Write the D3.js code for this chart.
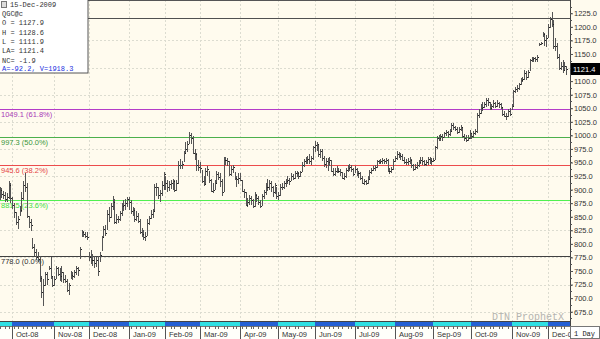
<!DOCTYPE html>
<html>
<head>
<meta charset="utf-8">
<script src="https://cdn.jsdelivr.net/npm/d3@7"></script>
<style>
  body { margin: 0; background: #fff; }
  svg { display: block; font-family: "Liberation Sans", sans-serif; }
</style>
</head>
<body>
<svg width="600" height="339"></svg>
<script>
// daily bars, QGC@c, 22-Sep-2008 .. 15-Dec-2009 (one line per month)
var highs = [
  905,903,897,895,893,916,912,
  887,875,859,852,870,895,915,930,912,851,845,810,800,791,785,778,741,735,749,748,760,776,741,
  740,760,758,755,760,749,742,736,728,750,748,752,760,758,795,826,823,822,822,
  785,788,782,778,775,778,785,815,833,835,862,868,875,888,882,855,852,860,875,880,882,886,
  886,880,868,866,860,856,845,830,825,822,845,852,862,864,910,912,905,900,915,932,
  925,918,915,918,920,918,918,952,956,952,972,987,990,1006,1004,998,975,968,955,
  950,937,925,940,943,935,920,912,918,935,932,930,920,961,961,958,952,943,945,932,925,930,
  930,918,901,895,885,890,888,882,895,892,888,880,892,900,912,919,918,915,906,912,905,
  895,910,912,916,920,925,922,930,928,934,934,932,935,950,956,960,962,965,962,980,
  989,988,985,975,974,962,958,958,960,955,940,940,943,940,938,932,930,940,945,947,945,940,
  943,940,935,932,925,920,918,925,937,940,943,945,955,955,956,958,956,958,956,940,942,956,
  962,971,970,968,965,960,956,958,960,956,948,948,950,955,961,960,955,955,960,960,958,
  958,980,998,1000,1003,1002,1007,1010,1008,1012,1022,1023,1018,1015,1016,1020,1016,1002,1000,1000,1010,
  1003,1008,1012,1042,1048,1058,1062,1062,1069,1068,1062,1058,1065,1062,1065,1062,1060,1052,1045,1042,1048,1050,
  1058,1084,1090,1092,1097,1105,1108,1120,1118,1120,1140,1145,1145,1145,1148,1170,1172,1190,1189,1185,
  1205,1218,1227,1213,1180,1170,1150,1135,1138,1135,1128.6
];
var lows = [
  880,885,883,878,877,882,876,
  865,847,835,828,851,858,880,895,847,830,824,790,778,770,767,730,700,685,723,725,752,736,721,
  722,735,740,732,730,727,728,712,706,735,734,738,742,740,773,812,812,810,808,
  768,763,760,755,758,741,767,786,812,815,825,840,848,862,836,836,838,842,852,860,862,868,
  862,855,852,840,842,838,818,812,808,805,815,835,846,848,860,888,882,877,888,900,
  900,896,898,902,900,896,898,910,938,938,950,965,970,985,985,965,955,935,935,
  930,912,907,908,925,912,896,893,900,910,918,905,888,895,945,943,925,925,930,918,905,910,
  915,895,885,870,868,872,872,866,868,878,872,866,870,882,890,898,900,895,886,892,883,
  880,888,900,902,905,910,908,915,918,920,923,920,924,932,941,947,948,948,945,955,
  970,972,960,958,952,942,940,935,943,932,925,925,930,930,926,920,918,922,932,935,932,925,
  930,925,922,918,910,908,908,910,920,928,934,934,940,947,947,948,947,948,932,929,930,936,
  950,955,958,955,952,947,945,946,948,940,934,936,938,942,948,946,943,943,946,948,945,
  951,955,975,990,990,989,995,998,996,998,1008,1010,1008,1002,1004,1008,995,990,988,990,993,
  993,995,1000,1005,1032,1040,1045,1050,1052,1054,1047,1047,1050,1050,1052,1050,1048,1035,1033,1028,1033,1035,
  1047,1052,1078,1080,1084,1092,1098,1102,1102,1105,1118,1135,1135,1135,1136,1165,1166,1182,1165,1163,
  1180,1198,1200,1160,1155,1140,1120,1121,1115,1118,1111.9
];
var closes = [
  900,892,890,882,887,908,884,
  872,858,840,845,862,885,908,905,852,840,835,795,785,776,772,737,712,725,745,735,756,740,725,
  735,755,745,740,748,735,732,715,724,742,740,748,755,752,790,822,818,815,812,
  775,770,770,765,770,750,780,812,828,820,855,850,870,878,840,845,845,856,870,872,876,882,
  878,860,862,845,852,842,822,818,812,815,838,848,855,860,905,905,890,893,908,928,
  912,905,910,912,915,900,912,945,945,948,968,975,985,1000,995,968,966,945,942,
  940,915,910,935,938,918,898,900,912,928,924,915,895,955,955,952,928,938,942,922,920,922,
  918,898,895,872,878,885,880,870,890,885,878,870,888,895,905,905,912,905,895,908,888,
  890,905,905,912,915,918,915,926,922,930,930,925,932,945,952,955,956,952,958,978,
  982,985,965,972,958,948,952,950,955,935,928,935,935,935,932,922,925,936,940,942,938,928,
  938,930,930,922,912,915,912,920,932,936,940,942,952,950,952,955,952,955,935,935,938,952,
  958,966,963,962,955,950,950,952,955,945,938,942,945,950,955,952,948,950,956,955,952,
  955,978,995,996,998,997,1005,1006,1002,1008,1020,1015,1012,1006,1012,1015,998,995,992,996,1005,
  998,1005,1008,1038,1042,1050,1052,1058,1065,1062,1050,1055,1060,1055,1060,1058,1052,1040,1036,1035,1045,1040,
  1055,1082,1085,1088,1094,1102,1104,1115,1108,1116,1138,1140,1142,1140,1145,1168,1170,1187,1175,1180,
  1200,1215,1205,1165,1165,1145,1125,1128,1120,1128,1121.4
];

// exchange holidays inside the range
var holidays = ["2008-11-27","2008-12-25","2009-01-01","2009-01-19","2009-02-16",
  "2009-04-10","2009-05-25","2009-07-03","2009-09-07","2009-11-26"];

// retracement levels (the 100% one has no visible label, the legend covers it)
var fibValues = [1216.6, 1049.1, 997.3, 945.6, 881.5, 778.0];
var fibLabels = ["", "1049.1 (61.8%)", "997.3 (50.0%)", "945.6 (38.2%)", "881.5 (23.6%)", "778.0 (0.0%)"];
var fibColors = ["#505050", "#b43cc8", "#4cb04c", "#ec4c4c", "#50f050", "#404040"];
var fibText = ["#505050", "#a838b8", "#3a963a", "#e44444", "#40e040", "#303030"];

var priceTicks = d3.range(675, 1225.1, 25);
var gridValues = d3.range(675, 1225, 50);

var legendLines = ["QGC@c", "O = 1127.9", "H = 1128.6", "L = 1111.9", "LA= 1121.4", "NC= -1.9"];
var legendDate = "15-Dec-2009";
var legendStats = "A=-92.2, V=1918.3";
var lastPrice = 1121.4;

var svg = d3.select("svg"),
    plotRight = 570,
    plotBottom = 322;

var fmt = d3.timeFormat("%Y-%m-%d");
var dates = d3.timeDay.range(new Date(2008, 8, 22), new Date(2009, 11, 16))
  .filter(function(d) { return d.getDay() !== 0 && d.getDay() !== 6 && holidays.indexOf(fmt(d)) < 0; });

var bars = highs.map(function(h, i) {
  return {i: i, date: dates[i], high: h, low: lows[i], close: closes[i]};
});

var x = d3.scaleLinear().domain([0, 311]).range([-0.45, 566.2]),
    y = d3.scaleLinear().domain([656, 1249.5]).range([plotBottom, 0]);

// month starts
var months = [];
bars.forEach(function(d, i) {
  if (i === 0 || d.date.getMonth() !== bars[i - 1].date.getMonth()) months.push(d);
});

svg.append("rect")
    .attr("width", 600).attr("height", 339)
    .attr("fill", "#fffbee");

svg.append("clipPath").attr("id", "plot")
  .append("rect").attr("width", plotRight).attr("height", plotBottom);

var g = svg.append("g").attr("clip-path", "url(#plot)");

// grid
g.selectAll(".hgrid")
  .data(gridValues)
  .enter().append("line")
    .attr("x1", 0).attr("x2", plotRight)
    .attr("y1", function(d) { return Math.round(y(d)) + 0.5; })
    .attr("y2", function(d) { return Math.round(y(d)) + 0.5; })
    .attr("stroke", "#dcdcd0")
    .attr("stroke-dasharray", "2,2");

g.selectAll(".vgrid")
  .data(months.slice(1))
  .enter().append("line")
    .attr("x1", function(d) { return Math.round(x(d.i)) + 0.5; })
    .attr("x2", function(d) { return Math.round(x(d.i)) + 0.5; })
    .attr("y1", 0).attr("y2", plotBottom)
    .attr("stroke", "#dcdcd0")
    .attr("stroke-dasharray", "2,2");

// retracement lines
g.selectAll(".fib")
  .data(fibValues)
  .enter().append("line")
    .attr("x1", 0).attr("x2", plotRight)
    .attr("y1", function(d) { return Math.round(y(d)) + 0.5; })
    .attr("y2", function(d) { return Math.round(y(d)) + 0.5; })
    .attr("stroke", function(d, i) { return fibColors[i]; })
    .attr("stroke-width", 1.2);

g.selectAll(".fibLabel")
  .data(fibValues.filter(function(d, i) { return fibLabels[i]; }))
  .enter().append("text")
    .attr("x", 1)
    .attr("y", function(d) { return Math.round(y(d)) + 8; })
    .attr("font-size", "7.5px")
    .attr("fill", function(d) { return fibText[fibValues.indexOf(d)]; })
    .text(function(d) { return fibLabels[fibValues.indexOf(d)]; });

// OHLC bars (high-low with close tick)
var barG = g.append("g")
    .attr("stroke", "#555")
    .attr("shape-rendering", "crispEdges");

barG.selectAll(".hl")
  .data(bars)
  .enter().append("line")
    .attr("x1", function(d) { return Math.round(x(d.i)) + 0.5; })
    .attr("x2", function(d) { return Math.round(x(d.i)) + 0.5; })
    .attr("y1", function(d) { return y(d.high); })
    .attr("y2", function(d) { return Math.max(y(d.low), y(d.high) + 1); });

barG.selectAll(".cl")
  .data(bars)
  .enter().append("line")
    .attr("x1", function(d) { return Math.round(x(d.i)) + 1; })
    .attr("x2", function(d) { return Math.round(x(d.i)) + 2; })
    .attr("y1", function(d) { return Math.round(y(d.close)) + 0.5; })
    .attr("y2", function(d) { return Math.round(y(d.close)) + 0.5; })
    .attr("stroke", "#222");

// watermark
svg.append("text")
    .attr("x", 564).attr("y", 320)
    .attr("text-anchor", "end")
    .attr("font-family", "Liberation Mono, monospace")
    .attr("font-size", "10px")
    .attr("fill", "#b4b4b0")
    .text("DTN ProphetX");

// top border
svg.append("line")
    .attr("x1", 0).attr("x2", plotRight).attr("y1", 0.5).attr("y2", 0.5)
    .attr("stroke", "#555");

// month colour band
svg.append("line")
    .attr("x1", 0).attr("x2", plotRight).attr("y1", plotBottom - 0.5).attr("y2", plotBottom - 0.5)
    .attr("stroke", "#444");

svg.selectAll(".band")
  .data(months)
  .enter().append("rect")
    .attr("x", function(d, k) { return k === 0 ? 0 : Math.round(x(d.i)); })
    .attr("y", plotBottom)
    .attr("width", function(d, k) {
      var x0 = k === 0 ? 0 : Math.round(x(d.i));
      var x1 = k < months.length - 1 ? Math.round(x(months[k + 1].i)) : plotRight;
      return x1 - x0;
    })
    .attr("height", 4)
    .attr("fill", function(d, k) { return k % 2 ? "#2460d4" : "#2ee0e4"; });

// date axis
svg.append("clipPath").attr("id", "dateClip")
  .append("rect").attr("y", 326).attr("width", plotRight).attr("height", 13);

var axisG = svg.append("g").attr("clip-path", "url(#dateClip)");

axisG.append("rect")
    .attr("y", 326).attr("width", plotRight).attr("height", 13)
    .attr("fill", "#fffffa");

axisG.append("line")
    .attr("x1", 0).attr("x2", plotRight).attr("y1", 326.5).attr("y2", 326.5)
    .attr("stroke", "#777");

axisG.selectAll(".dtick")
  .data(bars.filter(function(d) { return d.date.getDay() === 1 || d.date.getDay() === 4; }))
  .enter().append("line")
    .attr("x1", function(d) { return Math.round(x(d.i)) + 0.5; })
    .attr("x2", function(d) { return Math.round(x(d.i)) + 0.5; })
    .attr("y1", 326).attr("y2", 329)
    .attr("stroke", "#666");

axisG.selectAll(".msep")
  .data(months.slice(1))
  .enter().append("line")
    .attr("x1", function(d) { return Math.round(x(d.i)) + 0.5; })
    .attr("x2", function(d) { return Math.round(x(d.i)) + 0.5; })
    .attr("y1", 326).attr("y2", 339)
    .attr("stroke", "#555");

axisG.selectAll(".mlabel")
  .data(months.slice(1))
  .enter().append("text")
    .attr("x", function(d) { return Math.round(x(d.i)) + 4; })
    .attr("y", 337)
    .attr("font-size", "7.5px")
    .attr("fill", "#333")
    .text(function(d) {
      // the last month only shows what fits before the price axis
      var s = d3.timeFormat("%b-%y")(d.date);
      return d.i === months[months.length - 1].i ? s.slice(0, 5) : s;
    });

// price axis on the right
svg.append("line")
    .attr("x1", plotRight + 0.5).attr("x2", plotRight + 0.5)
    .attr("y1", 0).attr("y2", 339)
    .attr("stroke", "#444");

svg.append("g")
    .attr("transform", "translate(" + plotRight + ",0)")
    .selectAll(".minor")
  .data(d3.range(662.5, 1245, 12.5))
  .enter().append("line")
    .attr("x1", 0).attr("x2", 2)
    .attr("y1", function(d) { return Math.round(y(d)) + 0.5; })
    .attr("y2", function(d) { return Math.round(y(d)) + 0.5; })
    .attr("stroke", "#555");

// the last-price marker hides the tick label it sits on
var shownTicks = priceTicks.filter(function(v) { return Math.abs(y(v) - y(lastPrice)) > 7; });

var yAxis = svg.append("g")
    .attr("transform", "translate(" + plotRight + ",0)")
    .call(d3.axisRight(y).tickValues(shownTicks).tickFormat(d3.format(".1f")).tickSize(3).tickPadding(1));

yAxis.select(".domain").remove();
yAxis.selectAll("text")
    .attr("font-size", "7.5px")
    .attr("font-family", "Liberation Sans, sans-serif")
    .attr("fill", "#333");
yAxis.selectAll("line").attr("stroke", "#555");

// last price marker
svg.append("rect")
    .attr("x", plotRight + 1).attr("y", Math.round(y(lastPrice)) - 6)
    .attr("width", 29).attr("height", 12)
    .attr("fill", "#000");

svg.append("text")
    .attr("x", plotRight + 3).attr("y", Math.round(y(lastPrice)) + 3)
    .attr("font-size", "7.5px")
    .attr("fill", "#fff")
    .text(d3.format(".1f")(lastPrice));

// interval box
svg.append("rect")
    .attr("x", plotRight + 0.5).attr("y", 326.5)
    .attr("width", 29).attr("height", 12)
    .attr("fill", "#fff").attr("stroke", "#777");

svg.append("text")
    .attr("x", plotRight + 4).attr("y", 336)
    .attr("font-family", "Liberation Mono, monospace")
    .attr("font-size", "7px")
    .attr("fill", "#222")
    .text("1 Day");

// legend box
var legend = svg.append("g");

legend.append("rect")
    .attr("x", -0.5).attr("y", -0.5)
    .attr("width", 88.5).attr("height", 73.5)
    .attr("fill", "#fff")
    .attr("stroke", "#555");

legend.append("rect")
    .attr("x", 1.5).attr("y", 1.5).attr("width", 5).attr("height", 6)
    .attr("fill", "#ddd").attr("stroke", "#777");

legend.append("text")
    .attr("x", 10).attr("y", 7)
    .attr("font-family", "Liberation Mono, monospace")
    .attr("font-size", "7px")
    .attr("fill", "#333")
    .text(legendDate);

legend.selectAll(".ll")
  .data(legendLines)
  .enter().append("text")
    .attr("x", 2)
    .attr("y", function(d, i) { return 16 + i * 9.3; })
    .attr("font-family", "Liberation Mono, monospace")
    .attr("font-size", "7px")
    .attr("fill", "#333")
    .text(function(d) { return d; });

legend.append("text")
    .attr("x", 2).attr("y", 71)
    .attr("font-family", "Liberation Mono, monospace")
    .attr("font-size", "7px")
    .attr("fill", "#2030e0")
    .text(legendStats);
</script>
</body>
</html>
